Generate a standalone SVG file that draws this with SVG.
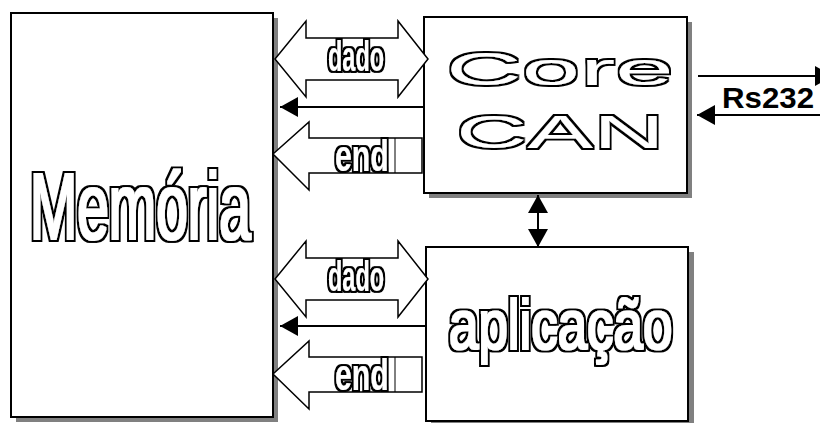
<svg xmlns="http://www.w3.org/2000/svg" width="820" height="423" viewBox="0 0 820 423">
<style>
.box{fill:#fff;stroke:#000;stroke-width:2}
.shadow{fill:#808080}
.bt{fill:#000;font-family:"Liberation Sans",Arial,sans-serif;font-weight:bold}
.rt{fill:#000;font-family:"Liberation Sans",Arial,sans-serif;font-weight:normal}
.blk{fill:#fff;stroke:#000;stroke-width:1.5}
.ln{stroke:#000;stroke-width:2;fill:none}
.lbl{fill:#000;font-family:"Liberation Sans",Arial,sans-serif;font-weight:bold}
</style>
<defs>
<marker id="ah" viewBox="0 0 18 20" refX="18" refY="10" markerWidth="18" markerHeight="20" markerUnits="userSpaceOnUse" orient="auto-start-reverse">
<path d="M0,0 L18,10 L0,20 Z" fill="#000"/>
</marker>
<filter id="fat" x="-10%" y="-20%" width="120%" height="140%">
<feMorphology in="SourceAlpha" operator="dilate" radius="3" result="o"/>
<feMorphology in="SourceAlpha" operator="dilate" radius="1" result="i"/>
<feFlood flood-color="#000" result="k"/>
<feComposite in="k" in2="o" operator="in" result="ko"/>
<feFlood flood-color="#fff" result="w"/>
<feComposite in="w" in2="i" operator="in" result="wi"/>
<feMerge><feMergeNode in="ko"/><feMergeNode in="wi"/></feMerge>
</filter>
<filter id="fatS" x="-10%" y="-20%" width="120%" height="140%">
<feMorphology in="SourceAlpha" operator="dilate" radius="1.5" result="o"/>
<feFlood flood-color="#000" result="k"/>
<feComposite in="k" in2="o" operator="in" result="ko"/>
<feFlood flood-color="#fff" result="w"/>
<feComposite in="w" in2="SourceAlpha" operator="in" result="wi"/>
<feMerge><feMergeNode in="ko"/><feMergeNode in="wi"/></feMerge>
</filter>
<filter id="thin" x="-10%" y="-20%" width="120%" height="140%">
<feMorphology in="SourceAlpha" operator="dilate" radius="1.6" result="o"/>
<feFlood flood-color="#000" result="k"/>
<feComposite in="k" in2="o" operator="in" result="ko"/>
<feFlood flood-color="#fff" result="w"/>
<feComposite in="w" in2="SourceAlpha" operator="in" result="wi"/>
<feMerge><feMergeNode in="ko"/><feMergeNode in="wi"/></feMerge>
</filter>
</defs>
<g id="memoria">
<rect class="shadow" x="16" y="18" width="262" height="404"/>
<rect class="box" x="11" y="13" width="262" height="404"/>
<g filter="url(#fat)"><text class="rt" transform="translate(30,239) scale(0.6,1)" font-size="94" textLength="368" lengthAdjust="spacingAndGlyphs">Memória</text></g>
</g>
<g id="core-can">
<rect class="shadow" x="429" y="22" width="263" height="176"/>
<rect class="box" x="424" y="17" width="263" height="176"/>
<g filter="url(#thin)">
<text class="rt" transform="translate(446,85) scale(2.3,1)" font-size="46" textLength="99" lengthAdjust="spacingAndGlyphs">Core</text>
<text class="rt" transform="translate(456,148) scale(2.15,1)" font-size="46" textLength="97" lengthAdjust="spacingAndGlyphs">CAN</text>
</g>
</g>
<g id="aplicacao">
<rect class="shadow" x="431" y="252" width="263" height="176"/>
<rect class="box" x="426" y="247" width="262" height="174"/>
<g filter="url(#fat)"><text class="rt" transform="translate(449,349) scale(0.7,1)" font-size="71" textLength="319" lengthAdjust="spacingAndGlyphs">aplicação</text></g>
</g>
<g id="connectors">
<path class="blk" d="M275,59 L306,21 L306,38 L398,38 L398,21 L428,59 L398,97 L398,80 L306,80 L306,97 Z"/>
<line class="ln" x1="425" y1="107" x2="280" y2="107" marker-end="url(#ah)"/>
<path class="blk" d="M273,154 L309,122 L309,138 L422,138 L422,173 L309,173 L309,190 Z"/>
<line x1="395" y1="138" x2="395" y2="173" stroke="#000" stroke-width="1"/>
<path class="blk" d="M275,279 L306,241 L306,258 L398,258 L398,241 L428,279 L398,317 L398,300 L306,300 L306,317 Z"/>
<line class="ln" x1="426" y1="326" x2="280" y2="326" marker-end="url(#ah)"/>
<path class="blk" d="M273,374 L309,341 L309,357 L422,357 L422,392 L309,392 L309,409 Z"/>
<line x1="395" y1="357" x2="395" y2="392" stroke="#000" stroke-width="1"/>
<line class="ln" x1="538" y1="195" x2="538" y2="247" marker-start="url(#ah)" marker-end="url(#ah)"/>
<line class="ln" x1="698" y1="76" x2="833" y2="76" marker-end="url(#ah)"/>
<line class="ln" x1="820" y1="115" x2="697" y2="115" marker-end="url(#ah)"/>
<g filter="url(#fatS)">
<text class="bt" transform="translate(328,71) scale(0.55,1)" font-size="43" textLength="102" lengthAdjust="spacingAndGlyphs">dado</text>
<text class="bt" transform="translate(335,171) scale(0.7,1)" font-size="44" textLength="77" lengthAdjust="spacingAndGlyphs">end</text>
<text class="bt" transform="translate(328,291) scale(0.55,1)" font-size="43" textLength="102" lengthAdjust="spacingAndGlyphs">dado</text>
<text class="bt" transform="translate(335,390) scale(0.7,1)" font-size="44" textLength="77" lengthAdjust="spacingAndGlyphs">end</text>
</g>
<text class="lbl" x="722" y="108" font-size="30" textLength="92" lengthAdjust="spacingAndGlyphs">Rs232</text>
</g>
</svg>
